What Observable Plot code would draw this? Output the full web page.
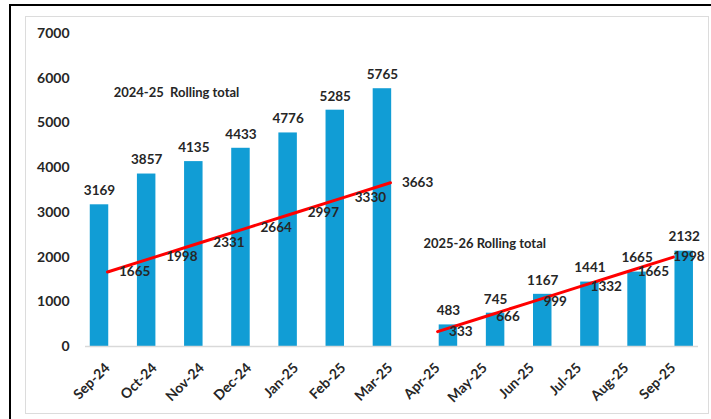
<!DOCTYPE html>
<html>
<head>
<meta charset="utf-8">
<script src="https://cdn.jsdelivr.net/npm/d3@7"></script>
<script src="https://cdn.jsdelivr.net/npm/@observablehq/plot@0.6"></script>
<style>
  html, body { margin: 0; padding: 0; background: #fff; }
  #wrap { position: relative; width: 711px; height: 419px; overflow: hidden; background: #fff; }
  #outer { position: absolute; left: 9px; top: 4px; right: -5px; bottom: -5px; border-left: 2px solid #000; border-top: 2px solid #000; }
  #inner { position: absolute; left: 25px; top: 16px; width: 682px; height: 396px; border: 1px solid #dcdcdc; }
  #chart { position: absolute; left: 0; top: 0; }
  svg text { white-space: pre; }
</style>
</head>
<body>
<div id="wrap">
  <div id="outer"></div>
  <div id="inner"></div>
  <div id="chart"></div>
</div>
<script>
// ---- data ----
const months = ["Sep-24","Oct-24","Nov-24","Dec-24","Jan-25","Feb-25","Mar-25","Apr-25","May-25","Jun-25","Jul-25","Aug-25","Sep-25"];
const totals2024 = [3169, 3857, 4135, 4433, 4776, 5285, 5765];   // Sep-24 .. Mar-25
const totals2025 = [483, 745, 1167, 1441, 1665, 2132];           // Apr-25 .. Sep-25
const trend2024 = [1665, 1998, 2331, 2664, 2997, 3330, 3663];
const trend2025 = [333, 666, 999, 1332, 1665, 1998];
const yTicks = [0, 1000, 2000, 3000, 4000, 5000, 6000, 7000];
const periodLabels = ["2024-25  Rolling total", "2025-26 Rolling total"];

// ---- layout helpers (not data) ----
const BAR_SHIFT_2025 = 0.4;   // second period bars sit a bit to the right
const LINE_SHIFT = 0.17;
const HALF_BAR = 0.196;
const n1 = totals2024.length;

const bars = [
  ...totals2024.map((v, i) => ({month: months[i], pos: i, value: v, period: "2024-25"})),
  ...totals2025.map((v, i) => ({month: months[n1 + i], pos: n1 + i + BAR_SHIFT_2025, value: v, period: "2025-26"}))
];
const trend = [
  ...trend2024.map((v, i) => ({pos: i + LINE_SHIFT, value: v, period: "2024-25", last: false})),
  ...trend2025.map((v, i) => ({pos: n1 + i + LINE_SHIFT, value: v, period: "2025-26", last: i === trend2025.length - 1}))
];
const tickRows = months.map((m, i) => ({m, i}));
const notes = [
  {text: periodLabels[0], pos: 0.3, value: 5665},
  {text: periodLabels[1], pos: 6.87, value: 2297}
];

const font = "Lato, 'Open Sans', sans-serif";
const ink = "#262626";

const chart = Plot.plot({
  width: 711,
  height: 419,
  marginLeft: 85,
  marginRight: 13,
  marginTop: 33,
  marginBottom: 73,
  style: {fontFamily: font, background: "transparent", overflow: "visible"},
  x: {type: "linear", domain: [-0.297, 12.703], axis: null},
  y: {domain: [0, 7000], axis: null, label: null},
  marks: [
    Plot.axisY({ticks: yTicks, label: null, tickSize: 0, tickPadding: 16, fontSize: 14, fontWeight: "bold", fill: ink, tickFormat: d => String(d)}),
    Plot.rect(bars, {x1: d => d.pos - HALF_BAR, x2: d => d.pos + HALF_BAR, y1: 0, y2: "value", fill: "#119dd5"}),
    Plot.ruleY([0], {stroke: "#d9d9d9", strokeWidth: 1.5}),
    Plot.text(bars, {x: "pos", y: "value", text: d => String(d.value), dy: -14, lineAnchor: "middle", fontSize: 13.5, fontWeight: "bold", fill: ink}),
    Plot.line(trend, {x: "pos", y: "value", z: "period", stroke: "#ff0000", strokeWidth: 3}),
    Plot.text(trend.filter(d => !d.last), {x: "pos", y: "value", text: d => String(d.value), textAnchor: "start", dx: 11.5, fontSize: 13.5, fontWeight: "bold", fill: ink}),
    Plot.text(trend.filter(d => d.last), {x: "pos", y: "value", text: d => String(d.value), textAnchor: "start", dx: 0, fontSize: 13.5, fontWeight: "bold", fill: ink}),
    Plot.text(notes, {x: "pos", y: "value", text: "text", textAnchor: "start", fontSize: 13, fontWeight: "bold", fill: ink}),
    Plot.text(tickRows, {x: "i", frameAnchor: "bottom", text: "m", rotate: -45, textAnchor: "end", lineAnchor: "middle", dx: 8, dy: 19, fontSize: 14, fontWeight: "bold", fill: ink})
  ]
});
document.getElementById("chart").appendChild(chart);
</script>
</body>
</html>
